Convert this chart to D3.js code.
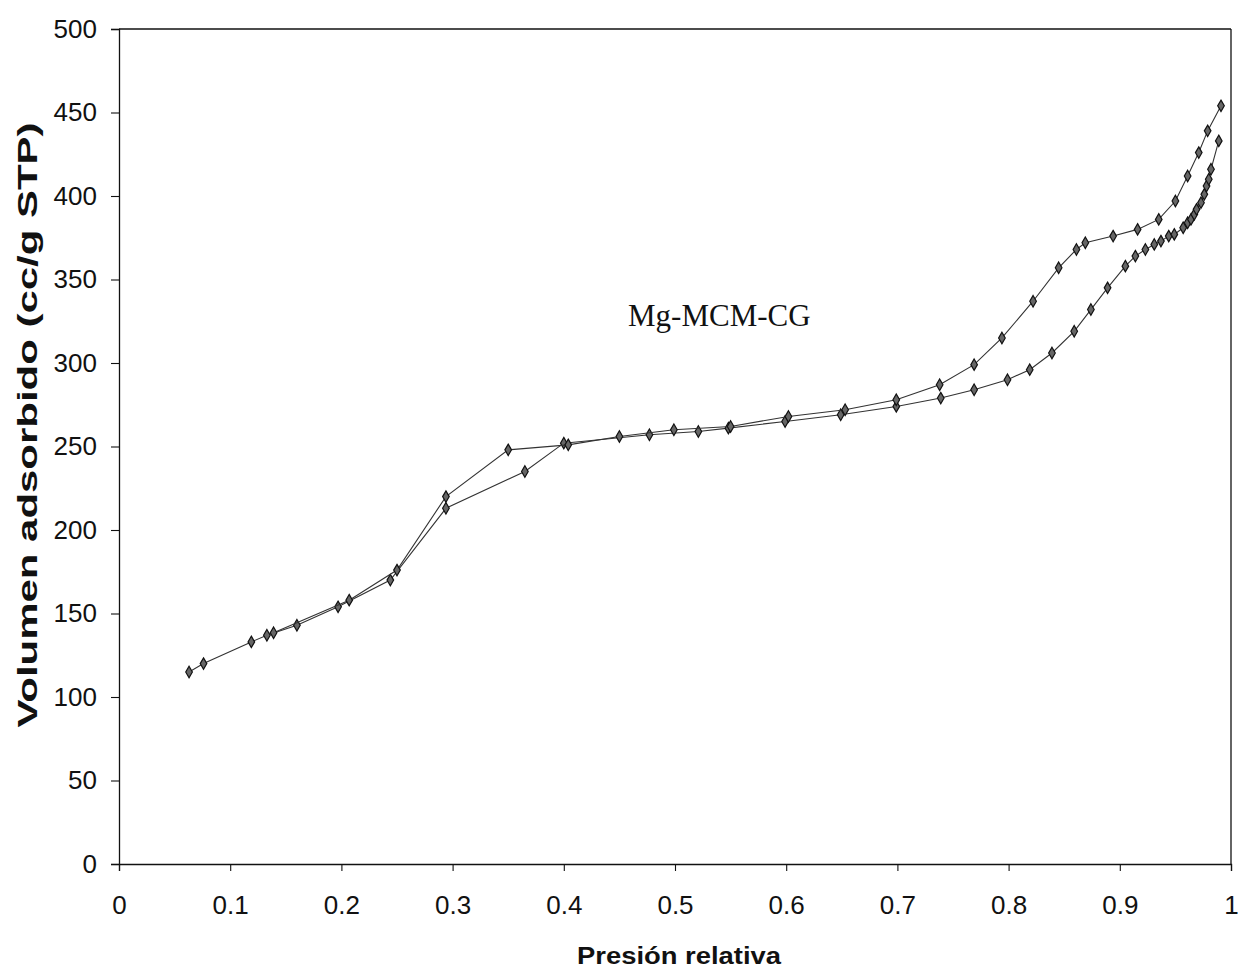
<!DOCTYPE html>
<html>
<head>
<meta charset="utf-8">
<script src="https://cdn.jsdelivr.net/npm/d3@7"></script>
<style>
  body { margin: 0; background: #fff; }
  .tick text { font-family: "Liberation Sans", Arial, sans-serif; fill: #111; }
</style>
</head>
<body>
<svg id="chart" width="1238" height="977"></svg>
<script>
// isoterma Mg-MCM-CG, rama de adsorcion y de desorcion
var adsP = [0.063, 0.076, 0.119, 0.133, 0.160, 0.197, 0.244, 0.294, 0.365, 0.400,
            0.477, 0.521, 0.548, 0.599, 0.649, 0.699, 0.739, 0.769, 0.799, 0.819,
            0.839, 0.859, 0.874, 0.889, 0.905, 0.914, 0.923, 0.931, 0.937, 0.944,
            0.949, 0.957, 0.961, 0.964, 0.967, 0.969, 0.973, 0.976, 0.978, 0.980,
            0.982, 0.989];
var adsV = [115, 120, 133, 137, 143, 154, 170, 213, 235, 252,
            257, 259, 261, 265, 269, 274, 279, 284, 290, 296,
            306, 319, 332, 345, 358, 364, 368, 371, 373, 376,
            377, 381, 384, 386, 389, 392, 396, 401, 406, 410,
            416, 433];
var desP = [0.991, 0.979, 0.971, 0.961, 0.950, 0.935, 0.916, 0.894, 0.869, 0.861,
            0.845, 0.822, 0.794, 0.769, 0.738, 0.699, 0.653, 0.602, 0.550, 0.499,
            0.450, 0.404, 0.350, 0.294, 0.250, 0.207, 0.139];
var desV = [454, 439, 426, 412, 397, 386, 380, 376, 372, 368,
            357, 337, 315, 299, 287, 278, 272, 268, 262, 260,
            256, 251, 248, 220, 176, 158, 138.5];
var xTicks = [0, 0.1, 0.2, 0.3, 0.4, 0.5, 0.6, 0.7, 0.8, 0.9, 1];
var yTicks = [0, 50, 100, 150, 200, 250, 300, 350, 400, 450, 500];

var svg = d3.select("#chart");
var mLeft = 119, mRight = 1231, mTop = 29, mBottom = 864;

var x = d3.scaleLinear().domain([0, 1]).range([mLeft, mRight]);
var y = d3.scaleLinear().domain([0, 500]).range([mBottom, mTop]);

// marco superior y derecho
svg.append("line").attr("x1", mLeft).attr("x2", mRight).attr("y1", mTop).attr("y2", mTop)
  .attr("stroke", "#111").attr("stroke-width", 1.3);
svg.append("line").attr("x1", mRight).attr("x2", mRight).attr("y1", mTop).attr("y2", mBottom)
  .attr("stroke", "#111").attr("stroke-width", 1.3);

var xAxis = svg.append("g").attr("transform", "translate(0," + mBottom + ")")
  .call(d3.axisBottom(x).tickValues(xTicks).tickSize(7).tickPadding(25)
    .tickFormat(function(d) { return d === 0 || d === 1 ? d : d3.format(".1f")(d); }));
xAxis.selectAll("text").style("font-size", "26px");

var yAxis = svg.append("g").attr("transform", "translate(" + mLeft + ",0)")
  .call(d3.axisLeft(y).tickValues(yTicks).tickSize(8).tickPadding(14));
yAxis.selectAll("text").style("font-size", "26px");

svg.selectAll(".domain").attr("stroke", "#111").attr("stroke-width", 1.3);
svg.selectAll(".tick line").attr("stroke", "#111").attr("stroke-width", 1.1);

var line = d3.line()
  .x(function(d) { return x(d[0]); })
  .y(function(d) { return y(d[1]); });

var series = [
  d3.zip(adsP, adsV),
  d3.zip(desP, desV)
];

var sym = d3.symbol().type(d3.symbolDiamond).size(38);

series.forEach(function(pts) {
  svg.append("path").datum(pts)
    .attr("d", line)
    .attr("fill", "none")
    .attr("stroke", "#333")
    .attr("stroke-width", 1.1);
  svg.append("g").selectAll("path")
    .data(pts)
    .enter().append("path")
      .attr("d", sym)
      .attr("transform", function(d) { return "translate(" + x(d[0]) + "," + y(d[1]) + ")"; })
      .attr("fill", "#666")
      .attr("stroke", "#111")
      .attr("stroke-width", 1.2);
});

// rotulos
svg.append("text")
  .attr("x", 628).attr("y", 326)
  .style("font-family", "'Liberation Serif', 'Times New Roman', serif")
  .style("font-size", "31px")
  .style("fill", "#111")
  .text("Mg-MCM-CG");

svg.append("text")
  .attr("x", 679).attr("y", 964)
  .attr("text-anchor", "middle")
  .attr("textLength", 204).attr("lengthAdjust", "spacingAndGlyphs")
  .style("font-family", "'Liberation Sans', Arial, sans-serif")
  .style("font-weight", "bold")
  .style("font-size", "23px")
  .style("fill", "#111")
  .text("Presión relativa");

svg.append("text")
  .attr("transform", "translate(37,425) rotate(-90)")
  .attr("text-anchor", "middle")
  .attr("textLength", 605).attr("lengthAdjust", "spacingAndGlyphs")
  .style("font-family", "'Liberation Sans', Arial, sans-serif")
  .style("font-weight", "bold")
  .style("font-size", "28px")
  .style("fill", "#111")
  .text("Volumen adsorbido (cc/g STP)");
</script>
</body>
</html>
